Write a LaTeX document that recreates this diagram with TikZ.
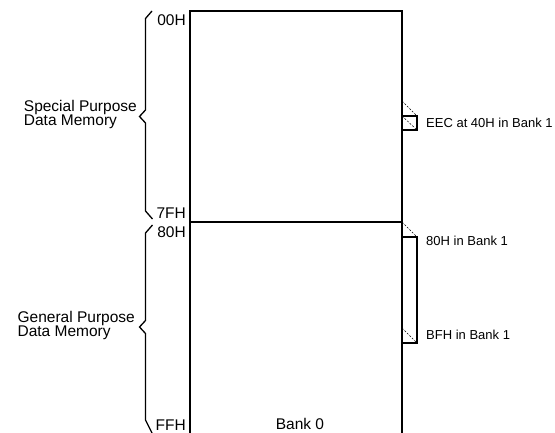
\documentclass[tikz,border=0pt]{standalone}
\usepackage{fontspec}
\setmainfont{Liberation Sans}
\begin{document}
\begin{tikzpicture}[x=1pt,y=-1pt,line join=miter,
  heavy/.style={line width=1.4pt},
  brace/.style={line width=1.3pt},
  dashline/.style={line width=0.5pt,dash pattern=on 2pt off 1.5pt},
  lbl/.style={font=\fontsize{15.5}{14}\selectfont,inner sep=0pt},
  rlbl/.style={font=\fontsize{13}{14}\selectfont,inner sep=0pt}]
\useasboundingbox (0,0) rectangle (555,433);
% main memory block
\draw[heavy] (190,433) -- (190,11) -- (402,11) -- (402,433);
\draw[heavy] (190,222) -- (402,222);
% address labels
\node[lbl,anchor=east] (a00) at (186,20) {00H};
\node[lbl,anchor=east] (a7f) at (186,213) {7FH};
\node[lbl,anchor=east] (a80) at (186,232) {80H};
\node[lbl,anchor=east] (aff) at (186,425) {FFH};
\node[lbl] (bank0) at (300,424) {Bank 0};
% braces
\draw[brace] (152,11) -- (145.5,18.5) -- (145.5,110) -- (139.5,116.5) -- (145.5,123) -- (145.5,211) -- (152.5,219);
\draw[brace] (152.5,225) -- (145.5,233) -- (145.5,320.5) -- (139.5,327) -- (145.5,333.5) -- (145.5,420) -- (152,433);
\node[lbl,anchor=east,align=left] (spdm) at (137,114) {Special Purpose\\Data Memory};
\node[lbl,anchor=east,align=left] (gpdm) at (135,325) {General Purpose\\Data Memory};
% bank 1 indications
\draw[heavy,line width=1.2pt] (402,116) -- (417,116) -- (417,130) -- (402,130);
\draw[dashline] (402,101) -- (417,116);
\draw[dashline] (402,116) -- (417,130);
\node[rlbl,anchor=west] (eec) at (426,123) {EEC at 40H in Bank 1};
\draw[heavy,line width=1.2pt] (402,237) -- (417,237) -- (417,343) -- (402,343);
\draw[dashline] (402,222) -- (417,237);
\draw[dashline] (402,328) -- (417,343);
\node[rlbl,anchor=west] (b80) at (426,241) {80H in Bank 1};
\node[rlbl,anchor=west] (bbf) at (426,335) {BFH in Bank 1};
\end{tikzpicture}
\end{document}
